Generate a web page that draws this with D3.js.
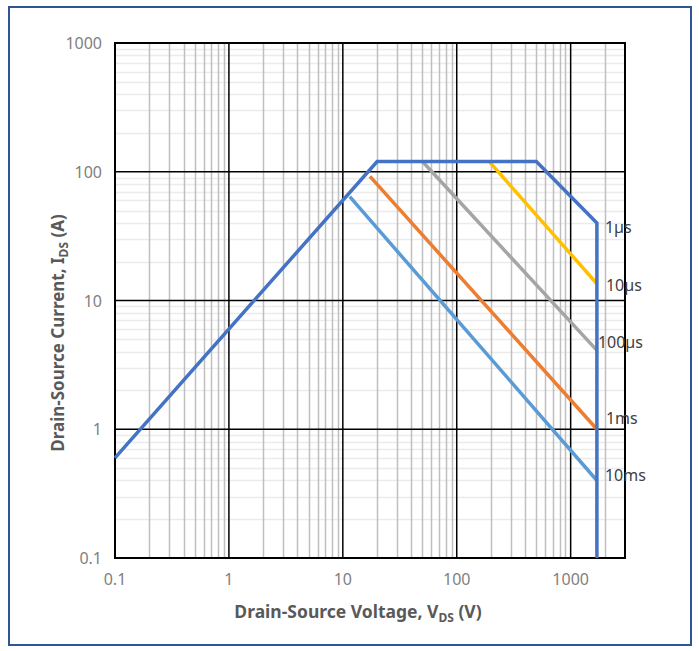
<!DOCTYPE html>
<html>
<head>
<meta charset="utf-8">
<script src="https://cdn.jsdelivr.net/npm/d3@7"></script>
<style>
  body { margin: 0; background: #fff; }
  svg text { font-family: "Noto Sans", "Open Sans", sans-serif; }
</style>
</head>
<body>
<div id="chart"></div>
<script>
// safe operating area data (V in volts, I in amps)
var envelopeV = [0.1, 20, 500, 1700, 1700];
var envelopeI = [0.6, 120, 120, 40, 0.1];
var pulse10usV = [193, 1700];
var pulse10usI = [120, 13.5];
var pulse100usV = [50, 1700];
var pulse100usI = [120, 4.1];
var pulse1msV = [17.3, 1700];
var pulse1msI = [92, 1.0];
var pulse10msV = [11.5, 1700];
var pulse10msI = [64, 0.4];
var xTicks = [0.1, 1, 10, 100, 1000];
var yTicks = [0.1, 1, 10, 100, 1000];
var curveLabels = ["1µs", "10µs", "100µs", "1ms", "10ms"];
var labelI = [40, 13.5, 4.1, 1.0, 0.4];

var width = 699, height = 651;
var plotLeft = 115, plotRight = 625, plotTop = 43, plotBottom = 558;

var svg = d3.select("#chart").append("svg")
    .attr("width", width)
    .attr("height", height);

// outer frame
svg.append("rect")
    .attr("x", 9).attr("y", 7)
    .attr("width", 682).attr("height", 638)
    .attr("fill", "#fff")
    .attr("stroke", "#2f5597")
    .attr("stroke-width", 2);

var x = d3.scaleLog().domain([0.1, 3000]).range([plotLeft, plotRight]);
var y = d3.scaleLog().domain([0.1, 1000]).range([plotBottom, plotTop]);

// minor gridlines
var minorX = [], minorY = [];
[0.1, 1, 10, 100, 1000].forEach(function(d) {
    for (var k = 2; k <= 9; k++) {
        if (d * k < 3000) minorX.push(d * k);
    }
});
[0.1, 1, 10, 100].forEach(function(d) {
    for (var k = 2; k <= 9; k++) minorY.push(d * k);
});

svg.append("g").selectAll("line")
    .data(minorY).enter().append("line")
    .attr("x1", plotLeft).attr("x2", plotRight)
    .attr("y1", function(d) { return Math.round(y(d)) + 0.5; })
    .attr("y2", function(d) { return Math.round(y(d)) + 0.5; })
    .attr("stroke", "#ebebeb").attr("stroke-width", 1.5);

svg.append("g").selectAll("line")
    .data(minorX).enter().append("line")
    .attr("y1", plotTop).attr("y2", plotBottom)
    .attr("x1", function(d) { return Math.round(x(d)) + 0.5; })
    .attr("x2", function(d) { return Math.round(x(d)) + 0.5; })
    .attr("stroke", "#bfbfbf").attr("stroke-width", 1.5);

// major gridlines
svg.append("g").selectAll("line")
    .data(yTicks).enter().append("line")
    .attr("x1", plotLeft).attr("x2", plotRight)
    .attr("y1", function(d) { return y(d); })
    .attr("y2", function(d) { return y(d); })
    .attr("stroke", "#000").attr("stroke-width", 1.5);

svg.append("g").selectAll("line")
    .data(xTicks).enter().append("line")
    .attr("y1", plotTop).attr("y2", plotBottom)
    .attr("x1", function(d) { return x(d); })
    .attr("x2", function(d) { return x(d); })
    .attr("stroke", "#000").attr("stroke-width", 1.5);

// plot border
svg.append("rect")
    .attr("x", plotLeft).attr("y", plotTop)
    .attr("width", plotRight - plotLeft).attr("height", plotBottom - plotTop)
    .attr("fill", "none").attr("stroke", "#000").attr("stroke-width", 2);

// tick labels
var fmt = function(d) { return d < 1 ? "0.1" : String(d); };
svg.append("g").selectAll("text")
    .data(xTicks).enter().append("text")
    .attr("x", function(d) { return x(d); })
    .attr("y", 585)
    .attr("text-anchor", "middle")
    .attr("font-size", 16).attr("fill", "#7f7f7f")
    .text(fmt);

svg.append("g").selectAll("text")
    .data(yTicks).enter().append("text")
    .attr("x", 102)
    .attr("y", function(d) { return y(d) + 6; })
    .attr("text-anchor", "end")
    .attr("font-size", 16).attr("fill", "#7f7f7f")
    .text(fmt);

// axis titles
var xt = svg.append("text")
    .attr("x", 358).attr("y", 618)
    .attr("text-anchor", "middle")
    .attr("font-size", 17.5).attr("font-weight", "bold").attr("fill", "#595959");
xt.append("tspan").text("Drain-Source Voltage, V");
xt.append("tspan").attr("font-size", 12).attr("dy", 4).text("DS");
xt.append("tspan").attr("dy", -4).text(" (V)");

var yt = svg.append("text")
    .attr("transform", "translate(64,333) rotate(-90)")
    .attr("text-anchor", "middle")
    .attr("font-size", 17).attr("font-weight", "bold").attr("fill", "#595959");
yt.append("tspan").text("Drain-Source Current, I");
yt.append("tspan").attr("font-size", 12).attr("dy", 4).text("DS");
yt.append("tspan").attr("dy", -4).text(" (A)");

// curves
var line = d3.line()
    .x(function(d) { return x(d[0]); })
    .y(function(d) { return y(d[1]); });

function drawCurve(vs, is, color) {
    svg.append("path")
        .datum(d3.zip(vs, is))
        .attr("d", line)
        .attr("fill", "none")
        .attr("stroke", color)
        .attr("stroke-width", 3.5);
}

drawCurve(pulse10msV, pulse10msI, "#5b9bd5");
drawCurve(pulse1msV, pulse1msI, "#ed7d31");
drawCurve(pulse100usV, pulse100usI, "#a5a5a5");
drawCurve(pulse10usV, pulse10usI, "#ffc000");
drawCurve(envelopeV, envelopeI, "#4472c4");

// curve labels
var labelDx = [8, 9, 1, 9, 8];
var labelDy = [4, 1, -8, -11, -5];
svg.append("g").selectAll("text")
    .data(curveLabels).enter().append("text")
    .attr("x", function(d, i) { return x(1700) + labelDx[i]; })
    .attr("y", function(d, i) { return y(labelI[i]) + labelDy[i] + 6; })
    .attr("font-size", 16).attr("fill", "#404040")
    .text(function(d) { return d; });
</script>
</body>
</html>
